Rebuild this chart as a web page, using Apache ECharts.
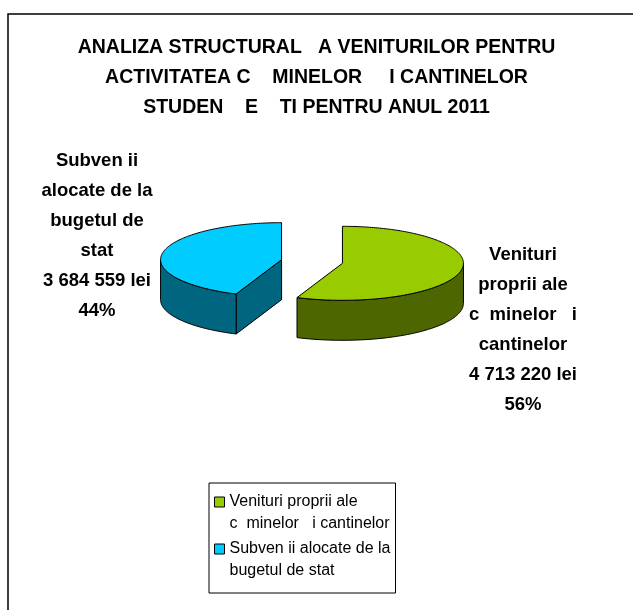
<!DOCTYPE html>
<html>
<head>
<meta charset="utf-8">
<script src="https://cdn.jsdelivr.net/npm/echarts@6/dist/echarts.min.js"></script>
<style>
  html, body { margin: 0; padding: 0; background: #fff; }
  #chart { width: 633px; height: 610px; }
</style>
</head>
<body>
<div id="chart"></div>
<script>
// date
var categories = [
    'Venituri proprii ale\nc  minelor   i cantinelor',
    'Subven ii alocate de la\nbugetul de stat'
];
var labelNames = [
    'Venituri\nproprii ale\nc  minelor   i\ncantinelor',
    'Subven ii\nalocate de la\nbugetul de\nstat'
];
var values = [4713220, 3684559];
var titleLines = [
    'ANALIZA STRUCTURAL   A VENITURILOR PENTRU',
    'ACTIVITATEA C    MINELOR     I CANTINELOR',
    'STUDEN    E    TI PENTRU ANUL 2011'
];

// stil / geometrie
var topColors = ['#99CC00', '#00CCFF'];
var sideColors = ['#4D6600', '#006680'];
var CX = 312, CY = 261.5, RX = 121, RY = 37, DEPTH = 40, EXPLODE = 31;
var labelPos = [[523, 330], [97, 236]];
var FONT = 'Liberation Sans, Arial, sans-serif';

var total = 0;
for (var i = 0; i < values.length; i++) total += values[i];

function fmt(v) {
    return String(v).replace(/\B(?=(\d{3})+(?!\d))/g, ' ');
}

function renderSlice(params, api) {
    var idx = params.seriesIndex;
    var val = api.value(0);
    var before = 0;
    for (var k = 0; k < idx; k++) before += values[k];
    var s = before / total * 360;
    var e = (before + val) / total * 360;
    var rad = Math.PI / 180;
    var m = (s + e) / 2 * rad;
    var cx = CX + EXPLODE * Math.sin(m);
    var cy = CY - EXPLODE * RY / RX * Math.cos(m);

    function P(deg, dz) {
        return [cx + RX * Math.sin(deg * rad), cy - RY * Math.cos(deg * rad) + dz];
    }
    function arc(a, b, dz) {
        var pts = [];
        var n = Math.max(2, Math.ceil(b - a));
        for (var j = 0; j <= n; j++) pts.push(P(a + (b - a) * j / n, dz));
        return pts;
    }
    var line = { stroke: '#000', lineWidth: 1, lineJoin: 'round' };
    var side = echarts.util.extend({ fill: sideColors[idx] }, line);
    var top = echarts.util.extend({ fill: api.visual('color') }, line);
    var children = [];

    // fete laterale vizibile
    if (Math.cos((s - 90) * rad) < -1e-6) {
        children.push({ type: 'polygon', shape: { points: [[cx, cy], P(s, 0), P(s, DEPTH), [cx, cy + DEPTH]] }, style: side });
    }
    if (Math.cos((e + 90) * rad) < -1e-6) {
        children.push({ type: 'polygon', shape: { points: [[cx, cy], P(e, 0), P(e, DEPTH), [cx, cy + DEPTH]] }, style: side });
    }
    var a = Math.max(s, 90), b = Math.min(e, 270);
    if (b > a) {
        children.push({ type: 'polygon', shape: { points: arc(a, b, 0).concat(arc(a, b, DEPTH).reverse()) }, style: side });
    }
    children.push({ type: 'polygon', shape: { points: [[cx, cy]].concat(arc(s, e, 0)) }, style: top });

    children.push({
        type: 'text',
        style: {
            x: labelPos[idx][0], y: labelPos[idx][1],
            text: labelNames[idx] + '\n' + fmt(val) + ' lei\n' + Math.round(val / total * 100) + '%',
            fontFamily: FONT, fontSize: 18.5, fontWeight: 'bold',
            fill: '#000', align: 'center', verticalAlign: 'middle', lineHeight: 30
        }
    });
    return { type: 'group', children: children };
}

var series = [];
for (var i = 0; i < categories.length; i++) {
    series.push({
        type: 'custom',
        name: categories[i],
        coordinateSystem: 'none',
        silent: true,
        itemStyle: { color: topColors[i] },
        data: [values[i]],
        renderItem: renderSlice
    });
}

var chart = echarts.init(document.getElementById('chart'));
chart.setOption({
    backgroundColor: '#fff',
    animation: false,
    title: {
        text: titleLines.join('\n'),
        left: 'center',
        top: 28,
        textStyle: { fontFamily: FONT, fontSize: 19.5, fontWeight: 'bold', color: '#000', lineHeight: 30 }
    },
    graphic: [{
        type: 'rect',
        shape: { x: 8, y: 14, width: 700, height: 700 },
        style: { fill: 'none', stroke: '#000', lineWidth: 1.5 },
        silent: true
    }],
    legend: {
        orient: 'vertical',
        left: 209,
        top: 483,
        padding: [8, 5, 11, 5],
        itemGap: 3,
        itemWidth: 10,
        itemHeight: 32,
        icon: 'path://M0,0h10v10h-10zM0,32',
        selectedMode: false,
        borderColor: '#000',
        borderWidth: 1,
        backgroundColor: '#fff',
        itemStyle: { borderColor: '#000', borderWidth: 1 },
        textStyle: { fontFamily: FONT, fontSize: 16, color: '#000', lineHeight: 22 },
        data: categories
    },
    series: series
});
</script>
</body>
</html>
